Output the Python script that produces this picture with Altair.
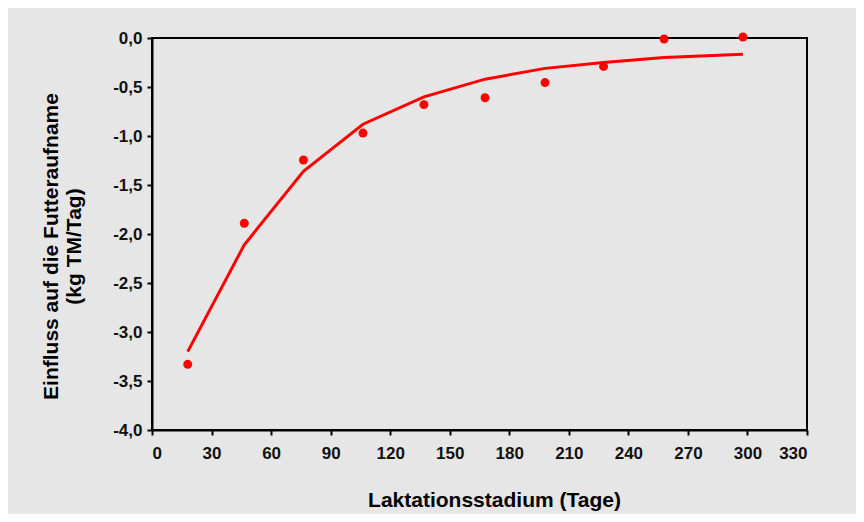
import altair as alt
import pandas as pd

days = [18, 46.5, 76.3, 106.3, 137, 167.8, 198, 227.5, 258, 297.7]
observed = [-3.33, -1.89, -1.245, -0.97, -0.68, -0.61, -0.455, -0.29, -0.01, 0.01]
fitted = [-3.20, -2.11, -1.36, -0.88, -0.60, -0.42, -0.31, -0.25, -0.20, -0.166]

x_ticks = [0, 30, 60, 90, 120, 150, 180, 210, 240, 270, 300, 330]
y_ticks = [-4.0, -3.5, -3.0, -2.5, -2.0, -1.5, -1.0, -0.5, 0.0]

df = pd.DataFrame({"day": days, "obs": observed, "fit": fitted})

RED = "#ff0000"

xenc = alt.X(
    "day:Q",
    scale=alt.Scale(domain=[0, 330], nice=False, zero=False),
    axis=alt.Axis(
        values=x_ticks,
        title="Laktationsstadium (Tage)",
        titleX=342,
        titleY=76,
        titleBaseline="alphabetic",
        labelPadding=10,
    ),
)

yaxis = alt.Axis(
    values=y_ticks,
    labelExpr="(datum.value < 0 ? '-' : '') + replace(format(abs(datum.value), '.1f'), '.', ',')",
    title=["Einfluss auf die Futteraufname", "(kg TM/Tag)"],
    titleX=-95,
    titleY=208,
    titleBaseline="alphabetic",
    titleLineHeight=23,
    labelPadding=5,
)

line = alt.Chart(df).mark_line(color=RED, strokeWidth=3).encode(
    x=xenc,
    y=alt.Y("fit:Q", scale=alt.Scale(domain=[-4, 0], nice=False, zero=False), axis=yaxis),
)

points = alt.Chart(df).mark_circle(color=RED, size=80, opacity=1).encode(
    x=alt.X("day:Q"),
    y=alt.Y("obs:Q"),
)

chart = (
    alt.layer(line, points)
    .properties(
        width=655,
        height=392,
        background="#e6e6e6",
        padding={"left": 144, "top": 30, "right": 49, "bottom": 84},
        autosize=alt.AutoSizeParams(type="none"),
    )
    .configure_view(stroke="black", strokeWidth=2)
    .configure_axis(
        grid=False,
        domainColor="black",
        domainWidth=2,
        tickColor="black",
        tickWidth=2,
        tickSize=5,
        labelFont="Liberation Sans",
        labelFontSize=17,
        labelFontWeight="bold",
        labelColor="#111111",
        titleFont="Liberation Sans",
        titleFontSize=21,
        titleFontWeight="bold",
        titleColor="black",
    )
)

chart.save("out.html", embed_options={"renderer": "svg", "actions": False})
